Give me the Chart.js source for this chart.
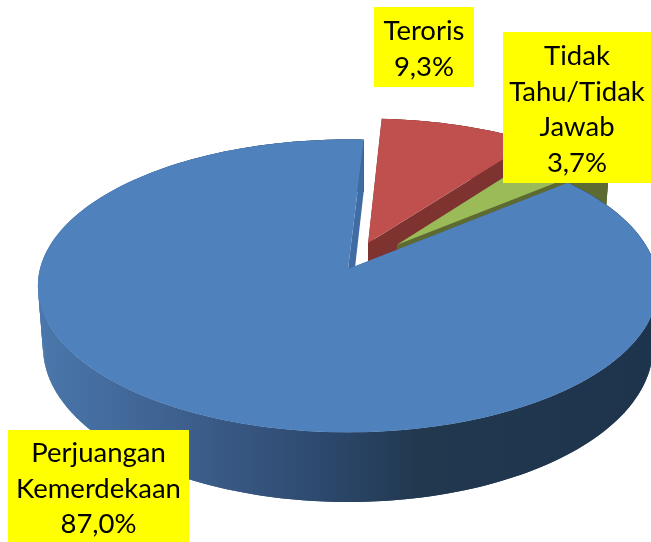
<!DOCTYPE html>
<html><head><meta charset="utf-8">
<style>html,body{margin:0;padding:0;background:#fff}canvas{display:block}</style>
<script src="https://cdn.jsdelivr.net/npm/chart.js@4"></script>
</head><body><canvas id="c" width="651" height="542"></canvas>
<script>
// Data (clockwise from the top, back slices first)
const categories = ['Teroris', 'Tidak Tahu/Tidak Jawab', 'Perjuangan Kemerdekaan'];
const values = [9.3, 3.7, 87.0];
const labelLines = [['Teroris'], ['Tidak', 'Tahu/Tidak', 'Jawab'], ['Perjuangan', 'Kemerdekaan']];
const topColors = ['#C0504D', '#9BBB59', '#4F81BD'];
const wallColors = ['#7F3331', '#5D6B32', '#3F6CA3'];
const shadedSide = [false, false, true];
const explode = [19.5, 23.6, 0];

// Perspective of the disc: top face and bottom face
const TOP = {cx: 348, cy: 269, a: 308, b: 144.5, k: 0.1156};
const BOT = {cx: 348, cy: 329, a: 303, b: 153, k: 0.1156};
const proj = (p, u, v) => {
  const w = 1 + p.k * v;
  return [p.cx + p.a * u / w, p.cy - p.b * v / w];
};

const blueSide = ctx => {
  const g = ctx.createLinearGradient(38, 0, 651, 0);
  g.addColorStop(0, '#4A77AC');
  g.addColorStop(0.26, '#3C5D8A');
  g.addColorStop(0.45, '#2E4A70');
  g.addColorStop(0.62, '#21384F');
  g.addColorStop(1, '#1E344D');
  return g;
};

class Pie3DArc extends Chart.ArcElement {
  static id = 'pie3dArc';
  static defaults = {...Chart.ArcElement.defaults, wallColor: '#000000', shadedSide: false};
  draw(ctx) {
    const {startAngle: a0, endAngle: a1} = this.getProps(['startAngle', 'endAngle']);
    const o = this.options;
    const mid = (a0 + a1) / 2, e = (o.offset || 0) / 100;
    const su = e * Math.cos(mid), sv = -e * Math.sin(mid);
    const rim = (p, a) => proj(p, su + Math.cos(a), sv - Math.sin(a));
    const apex = p => proj(p, su, sv);
    const steps = Math.max(8, Math.ceil((a1 - a0) * 60));
    const trace = (pts) => { ctx.beginPath(); pts.forEach((q, i) => i ? ctx.lineTo(q[0], q[1]) : ctx.moveTo(q[0], q[1])); ctx.closePath(); };
    const arcPts = p => { const r = []; for (let i = 0; i <= steps; i++) r.push(rim(p, a0 + (a1 - a0) * i / steps)); return r; };
    const topPts = arcPts(TOP), botPts = arcPts(BOT);
    ctx.save();
    // outer side: overlapping strips between the two rims
    ctx.fillStyle = o.shadedSide ? blueSide(ctx) : o.wallColor;
    for (let i = 0; i < steps; i++) {
      const j = Math.min(i + 2, steps);
      trace([topPts[i], topPts[j], botPts[j], botPts[i]]);
      ctx.fill();
    }
    // cut walls
    ctx.fillStyle = o.wallColor;
    [a0, a1].forEach(a => {
      trace([apex(TOP), rim(TOP, a), rim(BOT, a), apex(BOT)]);
      ctx.fill();
    });
    // top face
    trace([apex(TOP)].concat(topPts));
    ctx.fillStyle = o.backgroundColor;
    ctx.fill();
    ctx.restore();
  }
}
class Pie3DController extends Chart.DoughnutController {
  static id = 'pie3d';
  static defaults = {dataElementType: 'pie3dArc'};
}
Chart.register(Pie3DArc, Pie3DController);

const labelBoxes = [
  {x: 374, y: 7, w: 100, h: 80, base: 40},
  {x: 503, y: 32, w: 148, h: 151, base: 65},
  {x: 8, y: 430, w: 181, h: 112, base: 462}
];
const labelPlugin = {
  id: 'yellowLabels',
  afterDatasetsDraw(chart) {
    const ctx = chart.ctx;
    ctx.save();
    ctx.font = '27.5px Lato, "Open Sans", sans-serif';
    ctx.textAlign = 'center';
    ctx.textBaseline = 'alphabetic';
    labelBoxes.forEach((b, i) => {
      ctx.fillStyle = '#FFFF00';
      ctx.fillRect(b.x, b.y, b.w, b.h);
      ctx.fillStyle = '#000';
      const lines = labelLines[i].concat(values[i].toFixed(1).replace('.', ',') + '%');
      lines.forEach((t, j) => ctx.fillText(t, b.x + b.w / 2, b.base + j * 35.7));
    });
    ctx.restore();
  }
};

new Chart(document.getElementById('c'), {
  type: 'pie3d',
  data: {
    labels: categories,
    datasets: [{
      data: values,
      backgroundColor: topColors,
      wallColor: wallColors,
      shadedSide: shadedSide,
      offset: explode,
      borderWidth: 0,
      clip: false
    }]
  },
  options: {
    responsive: false,
    maintainAspectRatio: false,
    animation: false,
    events: [],
    cutout: 0,
    rotation: 3.3,
    plugins: {legend: {display: false}, tooltip: {enabled: false}}
  },
  plugins: [labelPlugin]
});
</script></body></html>
